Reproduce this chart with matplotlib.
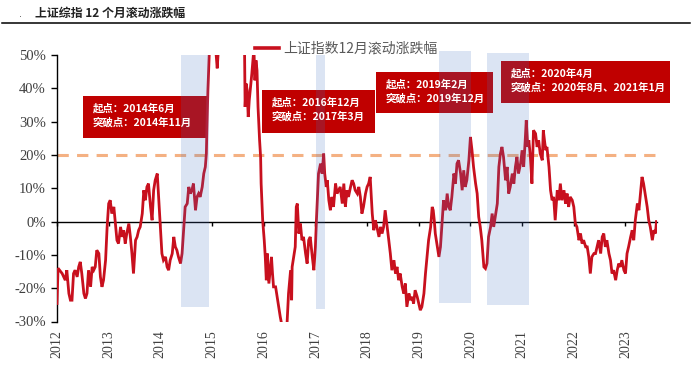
import matplotlib
matplotlib.use("Agg")
import matplotlib.pyplot as plt
from matplotlib.patches import Rectangle
from matplotlib.lines import Line2D
from matplotlib.font_manager import FontProperties

plt.rcParams['axes.unicode_minus'] = False

# ---------------- data ----------------
years = [
    2012.00, 2012.02, 2012.05, 2012.10, 2012.16, 2012.19, 2012.23, 2012.26, 2012.29, 2012.32,
    2012.35, 2012.39, 2012.42, 2012.45, 2012.48, 2012.52, 2012.55, 2012.58, 2012.61, 2012.65,
    2012.68, 2012.71, 2012.74, 2012.77, 2012.81, 2012.84, 2012.87, 2012.90, 2012.94, 2012.97,
    2013.00, 2013.03, 2013.06, 2013.10, 2013.13, 2013.16, 2013.19, 2013.23, 2013.26, 2013.29,
    2013.32, 2013.35, 2013.39, 2013.42, 2013.45, 2013.48, 2013.52, 2013.55, 2013.58, 2013.61,
    2013.65, 2013.68, 2013.71, 2013.74, 2013.77, 2013.81, 2013.84, 2013.87, 2013.90, 2013.94,
    2013.97, 2014.00, 2014.03, 2014.06, 2014.10, 2014.13, 2014.16, 2014.19, 2014.23, 2014.26,
    2014.29, 2014.32, 2014.35, 2014.39, 2014.42, 2014.45, 2014.48, 2014.52, 2014.55, 2014.58,
    2014.61, 2014.64, 2014.68, 2014.71, 2014.74, 2014.77, 2014.81, 2014.84, 2014.87, 2014.89,
    2014.90, 2014.92, 2014.95, 2014.97, 2015.03, 2015.08, 2015.10, 2015.12, 2015.16, 2015.23,
    2015.32, 2015.42, 2015.48, 2015.55, 2015.59, 2015.61, 2015.63, 2015.64, 2015.66, 2015.68,
    2015.70, 2015.72, 2015.75, 2015.77, 2015.81, 2015.83, 2015.85, 2015.87, 2015.89, 2015.92,
    2015.94, 2015.95, 2015.98, 2016.01, 2016.03, 2016.05, 2016.07, 2016.10, 2016.13, 2016.15,
    2016.17, 2016.19, 2016.23, 2016.26, 2016.29, 2016.32, 2016.35, 2016.39, 2016.42, 2016.45,
    2016.48, 2016.52, 2016.54, 2016.55, 2016.58, 2016.61, 2016.63, 2016.65, 2016.68, 2016.71,
    2016.74, 2016.77, 2016.81, 2016.84, 2016.87, 2016.90, 2016.94, 2016.97, 2017.00, 2017.02,
    2017.04, 2017.06, 2017.10, 2017.13, 2017.16, 2017.18, 2017.21, 2017.23, 2017.26, 2017.29,
    2017.32, 2017.35, 2017.39, 2017.42, 2017.45, 2017.48, 2017.52, 2017.55, 2017.58, 2017.61,
    2017.64, 2017.68, 2017.71, 2017.74, 2017.77, 2017.81, 2017.84, 2017.87, 2017.90, 2017.93,
    2017.97, 2018.00, 2018.03, 2018.06, 2018.10, 2018.13, 2018.16, 2018.19, 2018.23, 2018.26,
    2018.29, 2018.32, 2018.35, 2018.39, 2018.42, 2018.45, 2018.48, 2018.52, 2018.55, 2018.58,
    2018.61, 2018.64, 2018.68, 2018.71, 2018.74, 2018.77, 2018.81, 2018.84, 2018.87, 2018.90,
    2018.93, 2018.97, 2019.00, 2019.03, 2019.06, 2019.10, 2019.13, 2019.16, 2019.19, 2019.23,
    2019.26, 2019.28, 2019.30, 2019.32, 2019.35, 2019.39, 2019.42, 2019.45, 2019.48, 2019.52,
    2019.55, 2019.58, 2019.61, 2019.64, 2019.68, 2019.71, 2019.74, 2019.77, 2019.81, 2019.84,
    2019.87, 2019.90, 2019.93, 2019.97, 2020.00, 2020.03, 2020.06, 2020.10, 2020.13, 2020.16,
    2020.19, 2020.22, 2020.26, 2020.29, 2020.32, 2020.35, 2020.39, 2020.42, 2020.45, 2020.48,
    2020.52, 2020.55, 2020.58, 2020.61, 2020.64, 2020.68, 2020.71, 2020.74, 2020.77, 2020.81,
    2020.84, 2020.87, 2020.90, 2020.93, 2020.97, 2021.00, 2021.03, 2021.06, 2021.08, 2021.11,
    2021.13, 2021.16, 2021.19, 2021.22, 2021.26, 2021.29, 2021.32, 2021.35, 2021.39, 2021.41,
    2021.44, 2021.46, 2021.48, 2021.52, 2021.55, 2021.58, 2021.61, 2021.64, 2021.68, 2021.71,
    2021.74, 2021.77, 2021.81, 2021.84, 2021.87, 2021.90, 2021.93, 2021.97, 2022.00, 2022.03,
    2022.06, 2022.10, 2022.13, 2022.16, 2022.19, 2022.23, 2022.26, 2022.29, 2022.32, 2022.35,
    2022.39, 2022.42, 2022.45, 2022.48, 2022.52, 2022.55, 2022.58, 2022.61, 2022.64, 2022.68,
    2022.71, 2022.74, 2022.77, 2022.81, 2022.84, 2022.87, 2022.90, 2022.93, 2022.97, 2023.00,
    2023.03, 2023.06, 2023.10, 2023.13, 2023.16, 2023.19, 2023.23, 2023.26, 2023.29, 2023.32,
    2023.35, 2023.39, 2023.42, 2023.45, 2023.48, 2023.52, 2023.55, 2023.58, 2023.60,
]
ret_pct = [
    -24.6, -14.0, -14.6, -15.6, -17.6, -14.6, -21.6, -23.6, -23.6, -15.6,
    -14.6, -16.6, -13.6, -12.1, -15.6, -21.6, -23.1, -21.6, -14.6, -19.6,
    -13.6, -14.6, -13.6, -8.6, -9.6, -16.6, -19.6, -17.6, -11.6, -1.6,
    5.4, 6.4, 2.4, 4.4, -0.6, -5.6, -6.6, -1.6, -4.6, -2.6,
    -6.6, -3.6, -0.6, -4.6, -9.6, -15.6, -5.6, -4.6, -2.6, -1.6,
    2.4, 9.4, 6.4, 10.4, 11.4, 4.4, 0.4, 9.4, 12.4, 14.4,
    6.4, -1.6, -9.6, -11.6, -10.6, -13.6, -14.6, -11.6, -9.6, -4.6,
    -7.6, -8.6, -10.6, -12.6, -9.6, -2.6, 4.4, 5.4, 10.4, 8.4,
    9.4, 11.4, 3.4, 7.4, 8.4, 7.4, 10.4, 14.4, 16.4, 20.4,
    27.4, 39.4, 52.0, 56.0, 58.0, 50.0, 46.0, 51.0, 65.0, 85.0,
    110.0, 140.0, 120.0, 90.0, 60.0, 55.0, 50.0, 34.4, 41.4, 39.4,
    31.4, 36.4, 41.4, 44.4, 52.0, 42.4, 48.4, 45.4, 34.4, 24.4,
    19.4, 11.4, 0.4, -5.6, -10.6, -17.6, -9.6, -18.6, -13.6, -10.6,
    -15.6, -19.6, -19.6, -22.6, -25.6, -28.6, -31.0, -33.0, -33.0, -31.0,
    -21.6, -14.6, -23.6, -13.6, -10.6, -7.6, 4.4, 5.4, -3.6, -0.6,
    -5.6, -4.6, -9.6, -12.6, -5.6, -4.6, -10.6, -14.6, -7.6, 0.4,
    7.4, 14.4, 17.4, 14.4, 20.4, 14.4, 10.4, 12.4, 6.4, 3.4,
    7.4, 4.4, 11.4, 8.4, 9.4, 10.4, 5.4, 11.4, 4.4, 9.4,
    7.4, 10.4, 12.4, 11.4, 9.4, 8.4, 10.4, 7.4, 2.4, 4.4,
    8.4, 10.4, 11.4, 13.4, 2.4, -2.6, 0.4, -1.6, -4.6, -1.6,
    -3.6, -1.6, 3.4, -1.6, -5.6, -9.6, -14.6, -11.6, -15.6, -13.6,
    -17.6, -15.6, -19.6, -21.6, -18.6, -25.6, -21.6, -23.6, -22.6, -24.6,
    -20.6, -22.6, -24.6, -26.6, -25.6, -21.6, -15.6, -10.6, -5.6, -1.6,
    4.4, 3.4, 0.4, -3.6, -6.6, -10.6, -7.6, -0.6, 6.4, 3.4,
    8.4, 4.4, 3.4, 7.4, 14.4, 11.4, 17.4, 18.4, 14.4, 9.4,
    15.4, 10.4, 12.4, 18.4, 25.4, 21.4, 16.4, 11.4, 8.4, 1.4,
    -1.6, -5.6, -13.6, -14.1, -12.6, -4.6, -1.6, 2.4, -1.6, 1.4,
    5.4, 16.4, 20.4, 22.4, 19.4, 12.4, 16.4, 8.4, 10.4, 14.4,
    11.4, 16.4, 19.4, 14.4, 17.4, 21.4, 16.4, 24.4, 30.4, 22.4,
    24.4, 19.4, 11.4, 27.4, 26.4, 22.4, 24.4, 20.4, 18.4, 27.4,
    23.4, 21.4, 22.4, 16.4, 9.4, 6.4, 7.4, 0.4, 9.4, 6.4,
    11.4, 6.4, 9.4, 5.4, 8.4, 4.4, 7.4, 6.4, 4.4, -0.6,
    -1.6, -5.6, -3.6, -6.6, -5.6, -7.6, -7.6, -10.6, -15.6, -10.6,
    -9.6, -9.6, -7.6, -5.6, -9.6, -4.6, -3.6, -7.6, -5.6, -9.6,
    -11.6, -15.6, -14.6, -17.6, -14.6, -12.6, -13.6, -11.6, -14.6, -15.6,
    -9.6, -7.6, -4.6, -2.6, -5.6, 0.4, 5.4, 3.4, 8.4, 13.4,
    11.4, 7.4, 4.4, 0.4, -1.6, -5.6, -2.6, -3.6, 0.0,
]

year_ticks = list(range(2012, 2024))
y_ticks = [-30, -20, -10, 0, 10, 20, 30, 40, 50]
threshold = 20

# highlighted periods: start, end, top, bottom (in %)
span_start = [2014.39, 2017.02, 2019.385, 2020.32]
span_end = [2014.95, 2017.19, 2020.01, 2021.14]
span_top = [50.0, 50.0, 51.3, 50.7]
span_bottom = [-25.6, -26.1, -24.5, -25.0]

notes = [
    ("起点：2014年6月", "突破点：2014年11月"),
    ("起点：2016年12月", "突破点：2017年3月"),
    ("起点：2019年2月", "突破点：2019年12月"),
    ("起点：2020年4月", "突破点：2020年8月、2021年1月"),
]
# note boxes in pixel layout (left, top, right, bottom)
note_boxes = [(83, 96, 207, 138), (262, 90, 375, 133), (376, 72, 493, 113), (501, 61, 670, 103)]

title = "上证综指 12 个月滚动涨跌幅"
series_name = "上证指数12月滚动涨跌幅"

# ---------------- figure ----------------
W, H = 692, 366
fig = plt.figure(figsize=(W / 100, H / 100), dpi=100)
ax = fig.add_axes([57 / W, 1 - 321.5 / H, (657 - 57) / W, (321.5 - 55) / H])

RED = '#c8101e'
CJK = ['Noto Sans CJK SC', 'DejaVu Sans']
SERIF = 'Liberation Serif'

# note boxes (under the shading)
for (l, t, r, b) in note_boxes:
    ax.add_patch(Rectangle((l / W, 1 - b / H), (r - l) / W, (b - t) / H,
                           transform=fig.transFigure, facecolor='#c00000',
                           edgecolor='none', zorder=2, clip_on=False))

line, = ax.plot(years, ret_pct, color=RED, lw=2.0, zorder=3, solid_joinstyle='miter')

ax.axhline(threshold, color='#f4b183', lw=2.2, dashes=(3.7, 2.7), zorder=2.5)

for s, e, tp, bt in zip(span_start, span_end, span_top, span_bottom):
    ax.add_patch(Rectangle((s, bt), e - s, tp - bt, facecolor='#4472c4',
                           alpha=0.19, edgecolor='none', zorder=4, clip_on=False))

ax.set_xlim(2012, 2023.61)
ax.set_ylim(-30, 50)

# axes styling
for side in ['top', 'right']:
    ax.spines[side].set_visible(False)
ax.spines['bottom'].set_position(('data', 0))
ax.spines['bottom'].set_linewidth(1.0)
ax.spines['left'].set_linewidth(1.0)
ax.spines['bottom'].set_zorder(2.8)

ax.set_yticks(y_ticks)
ax.set_yticklabels([f"{v}%" for v in y_ticks])
ax.tick_params(axis='y', direction='out', length=4, width=1, pad=4,
               labelsize=10.5, labelcolor='#404040')
for lab in ax.get_yticklabels():
    lab.set_fontfamily(SERIF)

ax.set_xticks(year_ticks)
ax.set_xticklabels([str(y) for y in year_ticks], rotation=90)
ax.tick_params(axis='x', direction='out', length=3, width=1, pad=75,
               labelsize=10, labelcolor='#404040')
for lab in ax.get_xticklabels():
    lab.set_fontfamily(SERIF)

# legend
leg = ax.legend([line], [series_name], loc='center left',
                bbox_to_anchor=(255 / W, 1 - 49 / H), bbox_transform=fig.transFigure,
                frameon=False, borderpad=0, borderaxespad=0, handlelength=1.7,
                handletextpad=0.35, prop=FontProperties(family=CJK, size=10))
for t in leg.get_texts():
    t.set_color('#595959')
leg.get_lines()[0].set_linewidth(2.6)

# note texts
for (l, t, r, b), (l1, l2) in zip(note_boxes, notes):
    fig.text((l + 10) / W, 1 - (t + 12) / H, l1, color='white', fontsize=7.5,
             fontweight='bold', family=CJK, va='center', ha='left')
    fig.text((l + 10) / W, 1 - (t + 26.5) / H, l2, color='white', fontsize=7.5,
             fontweight='bold', family=CJK, va='center', ha='left')

# header
fig.text(35 / W, 1 - 13 / H, title, fontsize=8.6, fontweight='bold',
         family=CJK, color='#222222', va='center', ha='left')
fig.text(19 / W, 1 - 14 / H, '.', fontsize=7, color='#555555', va='center', ha='left')
fig.add_artist(Line2D([2 / W, 690 / W], [1 - 23.3 / H] * 2, color='black', lw=1.1,
                      transform=fig.transFigure))

fig.savefig('out.png', dpi=100)
